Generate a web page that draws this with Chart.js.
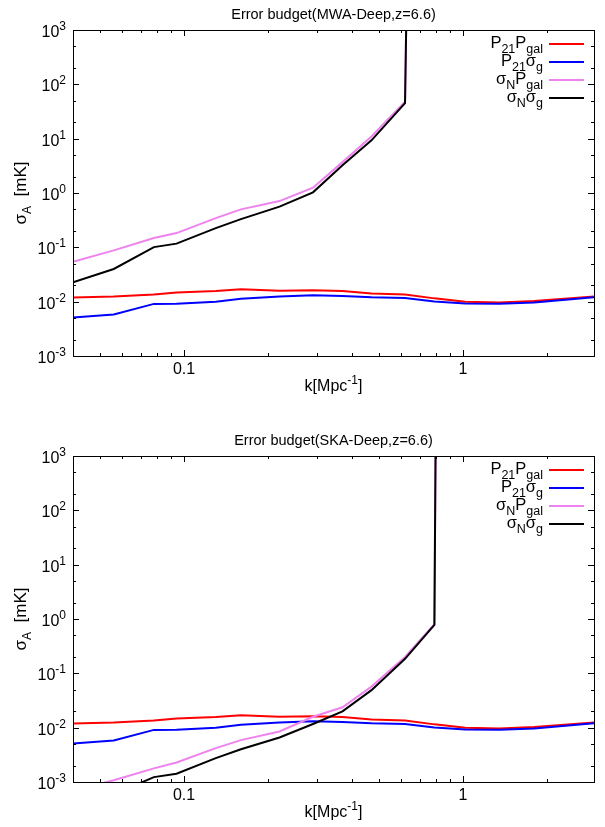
<!DOCTYPE html>
<html>
<head>
<meta charset="utf-8">
<title>Error budget</title>
<script src="https://cdn.jsdelivr.net/npm/chart.js@4/dist/chart.umd.min.js"></script>
<style>
    body { margin: 0; background: #fff; }
    canvas { display: block; }
</style>
</head>
<body>
<canvas id="mwa-chart" width="605" height="425"></canvas>
<canvas id="ska-chart" width="605" height="402"></canvas>
<script>
// k grid shared by the signal terms (Mpc^-1)
const kValues = [0.04, 0.056, 0.078, 0.094, 0.13, 0.16, 0.22, 0.29, 0.37, 0.47, 0.62, 0.79, 1.02, 1.35, 1.8, 2.95];
// P21 Pgal and P21 sigma_g (same in both panels)
const p21Pgal = [0.0119, 0.0124, 0.0136, 0.0147, 0.0157, 0.0169, 0.0159, 0.0162, 0.0157, 0.0142, 0.0136, 0.0115, 0.0100, 0.0097, 0.0103, 0.0124];
const p21SigmaG = [0.0051, 0.0058, 0.0091, 0.0092, 0.0100, 0.0113, 0.0124, 0.0131, 0.0127, 0.0120, 0.0117, 0.0101, 0.0093, 0.0092, 0.0097, 0.0120];

// MWA-Deep noise terms, diverging past k~0.62
const mwaNoiseK = [0.04, 0.056, 0.078, 0.094, 0.13, 0.16, 0.22, 0.29, 0.37, 0.47, 0.62, 0.63];
const mwaSigmaNPgal = [0.054, 0.088, 0.148, 0.183, 0.344, 0.50, 0.71, 1.25, 3.7, 11, 48, 1e4];
const mwaSigmaNSigmaG = [0.0227, 0.040, 0.101, 0.117, 0.226, 0.33, 0.56, 1.03, 3.25, 9.3, 45, 1e4];

// SKA-Deep noise terms, diverging past k~0.79
const skaNoiseK = [0.04, 0.056, 0.078, 0.094, 0.13, 0.16, 0.22, 0.29, 0.37, 0.47, 0.62, 0.79, 0.80];
const skaSigmaNPgal = [0.00068, 0.00108, 0.00178, 0.00229, 0.0042, 0.0059, 0.0085, 0.0159, 0.0237, 0.057, 0.20, 0.80, 1e4];
const skaSigmaNSigmaG = [0.0004, 0.00059, 0.00123, 0.00142, 0.00275, 0.0040, 0.0066, 0.0117, 0.0200, 0.049, 0.185, 0.78, 1e4];

// legend text pieces: [text, '' | 'sub' | 'sup']
const legendLabels = [
    [['P', ''], ['21', 'sub'], ['P', ''], ['gal', 'sub']],
    [['P', ''], ['21', 'sub'], ['σ', ''], ['g', 'sub']],
    [['σ', ''], ['N', 'sub'], ['P', ''], ['gal', 'sub']],
    [['σ', ''], ['N', 'sub'], ['σ', ''], ['g', 'sub']]
];
const seriesColors = ['#ff0000', '#0000ff', '#ee82ee', '#000000'];
const yExponents = [3, 2, 1, 0, -1, -2, -3];
const xTickLabels = [[0.1, '0.1'], [1, '1']];

const FONT = '"Liberation Sans", Arial, sans-serif';

// draws text with sub/superscript pieces; size = [main px, small px]
const drawRich = (ctx, parts, x, y, align, size) => {
    const [big, small] = size || [16, 12];
    const fontFor = mode => (mode ? small : big) + 'px ' + FONT;
    let total = 0;
    parts.forEach(([text, mode]) => {
        ctx.font = fontFor(mode);
        total += ctx.measureText(text).width;
    });
    let cx = x;
    if (align === 'right') cx = x - total;
    if (align === 'center') cx = x - total / 2;
    ctx.textAlign = 'left';
    ctx.textBaseline = 'alphabetic';
    parts.forEach(([text, mode]) => {
        ctx.font = fontFor(mode);
        let dy = 0;
        if (mode === 'sub') dy = Math.round(big * 0.3);
        if (mode === 'sup') dy = -Math.round(big * 0.45);
        ctx.fillText(text, cx, y + dy);
        cx += ctx.measureText(text).width;
    });
};

const gnuplotFrame = {
    id: 'gnuplotFrame',
    afterDraw(chart, args, opts) {
        const { ctx, chartArea: a, scales: { x, y } } = chart;
        ctx.save();
        ctx.fillStyle = '#000';
        ctx.strokeStyle = '#000';
        ctx.lineWidth = 1;

        // tics on all four sides
        ctx.beginPath();
        for (let d = -2; d <= 0; d++) {
            for (let m = 1; m <= 9; m++) {
                const v = m * Math.pow(10, d);
                if (v < x.min || v > x.max) continue;
                const px = Math.round(x.getPixelForValue(v)) + 0.5;
                const len = m === 1 ? 6 : 3;
                ctx.moveTo(px, a.bottom); ctx.lineTo(px, a.bottom - len);
                ctx.moveTo(px, a.top); ctx.lineTo(px, a.top + len);
            }
        }
        for (let d = -3; d <= 3; d++) {
            [1, 2, 5].forEach(m => {
                const v = m * Math.pow(10, d);
                if (v < y.min || v > y.max) return;
                const py = Math.round(y.getPixelForValue(v)) + 0.5;
                const len = m === 1 ? 6 : 3;
                ctx.moveTo(a.left, py); ctx.lineTo(a.left + len, py);
                ctx.moveTo(a.right, py); ctx.lineTo(a.right - len, py);
            });
        }
        ctx.stroke();

        // border
        ctx.strokeRect(Math.round(a.left) + 0.5, Math.round(a.top) + 0.5,
            Math.round(a.right - a.left), Math.round(a.bottom - a.top));

        // tick labels
        yExponents.forEach(e => {
            const py = y.getPixelForValue(Math.pow(10, e));
            drawRich(ctx, [['10', ''], [String(e), 'sup']], a.left - 7, py + 7, 'right');
        });
        xTickLabels.forEach(([v, label]) => {
            drawRich(ctx, [[label, '']], x.getPixelForValue(v), a.bottom + 18, 'center');
        });

        // axis titles
        const midX = (a.left + a.right) / 2;
        drawRich(ctx, [['k[Mpc', ''], ['-1', 'sup'], [']', '']], midX, a.bottom + 35, 'center');
        ctx.save();
        ctx.translate(26, (a.top + a.bottom) / 2);
        ctx.rotate(-Math.PI / 2);
        drawRich(ctx, [['σ', ''], ['A', 'sub'], ['  [mK]', '']], 0, 0, 'center', [17, 12]);
        ctx.restore();

        // title
        drawRich(ctx, [[opts.title, '']], midX, a.top - 11, 'center', [14.5, 10]);

        // key
        legendLabels.forEach((parts, i) => {
            const ly = a.top + 14 + i * 18;
            ctx.fillStyle = '#000';
            drawRich(ctx, parts, 543, ly + 4, 'right', [16.5, 12.5]);
            ctx.strokeStyle = seriesColors[i];
            ctx.lineWidth = 2;
            ctx.beginPath();
            ctx.moveTo(549, ly);
            ctx.lineTo(584, ly);
            ctx.stroke();
        });
        ctx.restore();
    }
};

const toPoints = (ks, vs) => ks.map((k, i) => ({ x: k, y: vs[i] }));

const renderPanel = (canvas, title, noiseK, sigmaNPgal, sigmaNSigmaG, padTop, padBottom) => {
    const series = [
        toPoints(kValues, p21Pgal),
        toPoints(kValues, p21SigmaG),
        toPoints(noiseK, sigmaNPgal),
        toPoints(noiseK, sigmaNSigmaG)
    ];
    const datasets = series.map((data, i) => ({
        data: data,
        borderColor: seriesColors[i],
        borderWidth: 2,
        pointRadius: 0,
        tension: 0,
        fill: false,
        order: 4 - i
    }));

    return new Chart(canvas, {
        type: 'line',
        data: { datasets: datasets },
        options: {
            responsive: false,
            animation: false,
            layout: { padding: { left: 73, right: 11, top: padTop, bottom: padBottom } },
            scales: {
                x: { type: 'logarithmic', min: 0.04, max: 2.95, display: false },
                y: { type: 'logarithmic', min: 1e-3, max: 1e3, display: false }
            },
            plugins: {
                legend: { display: false },
                tooltip: { enabled: false },
                gnuplotFrame: { title: title }
            }
        },
        plugins: [gnuplotFrame]
    });
};

renderPanel(document.getElementById('mwa-chart'), 'Error budget(MWA-Deep,z=6.6)',
    mwaNoiseK, mwaSigmaNPgal, mwaSigmaNSigmaG, 30, 69);
renderPanel(document.getElementById('ska-chart'), 'Error budget(SKA-Deep,z=6.6)',
    skaNoiseK, skaSigmaNPgal, skaSigmaNSigmaG, 31, 45);
</script>
</body>
</html>
